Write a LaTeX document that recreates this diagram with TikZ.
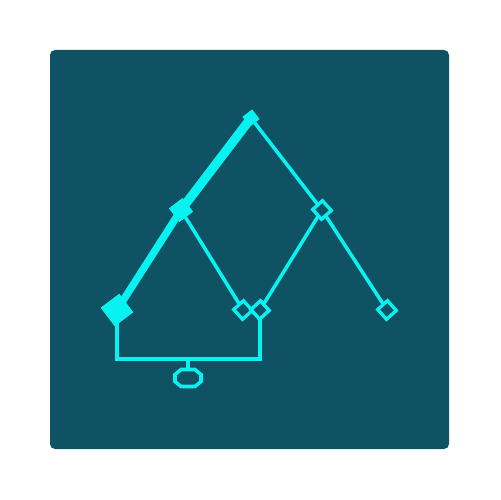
\documentclass[tikz,border=0pt]{standalone}
\definecolor{bg}{HTML}{0E5264}
\definecolor{cy}{HTML}{08F2F2}
\begin{document}
\begin{tikzpicture}[x=0.02cm,y=-0.02cm,
  filleddm/.style={fill=cy, draw=none, inner sep=0pt, outer sep=0pt, rotate=37},
  opendm/.style={draw=cy, fill=bg, line width=1.8pt, inner sep=0pt, outer sep=0pt, minimum size=0.26cm, rotate=42},
  thinline/.style={draw=cy, line width=2pt},
  octobox/.style={draw=none, inner sep=0pt, outer sep=0pt, minimum width=0.52cm, minimum height=0.34cm}]
\useasboundingbox (0,0) rectangle (500,500);
\fill[bg, rounded corners=0.1cm] (50,50) rectangle (449,449);
% nodes
\node[filleddm, minimum size=0.24cm] (A) at (251,118) {};
\node[filleddm, minimum size=0.34cm] (B) at (181,210) {};
\node[filleddm, minimum size=0.46cm] (C) at (117,310) {};
\node[opendm] (E) at (322,210) {};
\node[opendm] (F) at (387,310) {};
\node[opendm] (D1) at (243,310) {};
\node[opendm] (D2) at (260,310) {};
\node[octobox] (O) at (188,378) {};
\coordinate (bl) at (117,359);
\coordinate (br) at (260,359);
\coordinate (st) at (188,359);
% connectors
\draw[cy, line width=5.2pt] (A.center) -- (B.center);
\draw[cy, line width=4.2pt] (B.center) -- (C.center);
\draw[thinline] (A) -- (E);
\draw[thinline] (E) -- (F);
\draw[thinline] (B) -- (D1);
\draw[thinline] (E) -- (D2);
\draw[thinline] (C.center) -- (bl) -- (br) -- (D2);
\draw[thinline] (st) -- (O);
% octagon outline
\draw[thinline, line join=miter]
  ([xshift=0.12cm]O.north west) -- ([xshift=-0.12cm]O.north east)
  -- ([yshift=-0.1cm]O.north east) -- ([yshift=0.1cm]O.south east)
  -- ([xshift=-0.12cm]O.south east) -- ([xshift=0.12cm]O.south west)
  -- ([yshift=0.1cm]O.south west) -- ([yshift=-0.1cm]O.north west) -- cycle;
% redraw nodes on top
\node[filleddm, minimum size=0.24cm] at (A) {};
\node[filleddm, minimum size=0.34cm] at (B) {};
\node[filleddm, minimum size=0.46cm] at (C) {};
\node[opendm] at (E) {};
\node[opendm] at (F) {};
\node[opendm] at (D1) {};
\node[opendm, fill=none] at (D2) {};
\end{tikzpicture}
\end{document}
